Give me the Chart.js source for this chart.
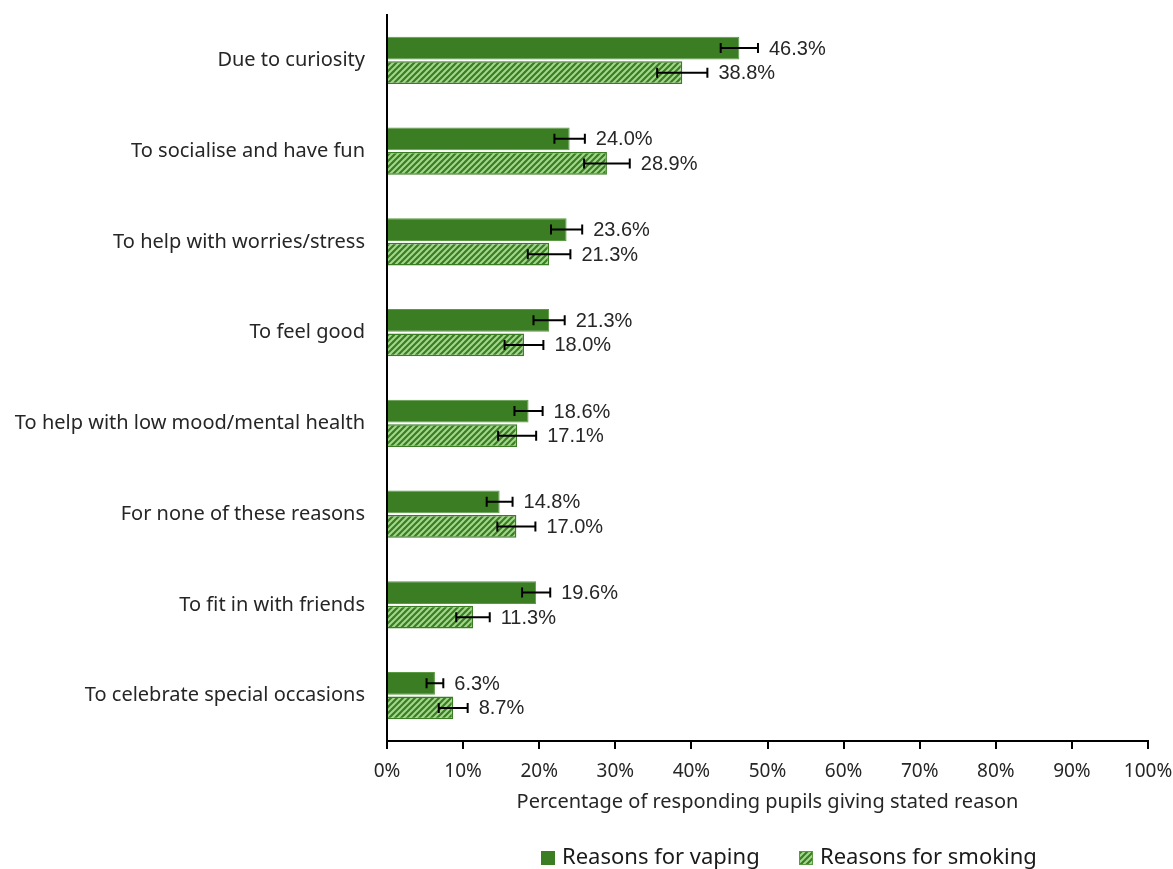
<!DOCTYPE html>
<html>
<head>
<meta charset="utf-8">
<script src="https://cdn.jsdelivr.net/npm/chart.js@4/dist/chart.umd.min.js"></script>
<style>
  html, body { margin: 0; padding: 0; background: #fff; }
  #wrap { width: 1173px; height: 869px; }
</style>
</head>
<body>
<div id="wrap"><canvas id="c" width="1173" height="869"></canvas></div>
<script>
// Reasons given by pupils for vaping and smoking (percent, with 95% CI half-widths)
const categories = [
  'Due to curiosity',
  'To socialise and have fun',
  'To help with worries/stress',
  'To feel good',
  'To help with low mood/mental health',
  'For none of these reasons',
  'To fit in with friends',
  'To celebrate special occasions'
];
const vaping = [46.3, 24.0, 23.6, 21.3, 18.6, 14.8, 19.6, 6.3];
const smoking = [38.8, 28.9, 21.3, 18.0, 17.1, 17.0, 11.3, 8.7];
const vapingErr = [2.45, 2.0, 2.05, 2.05, 1.85, 1.7, 1.85, 1.1];
const smokingErr = [3.3, 3.0, 2.8, 2.55, 2.5, 2.5, 2.2, 1.9];
const xTicks = [0, 10, 20, 30, 40, 50, 60, 70, 80, 90, 100];
const seriesNames = ['Reasons for vaping', 'Reasons for smoking'];

const DARK = '#3b7d23';
const LIGHT = '#a3d88c';
const TEXT = '#262626';
const FONT = '"Noto Sans", sans-serif';

// Diagonal hatch fill for the smoking series
function makeHatch() {
  const s = 6;
  const cv = document.createElement('canvas');
  cv.width = s; cv.height = s;
  const g = cv.getContext('2d');
  g.fillStyle = DARK;
  g.fillRect(0, 0, s, s);
  g.strokeStyle = LIGHT;
  g.lineWidth = 2;
  g.beginPath();
  g.moveTo(-1, s + 1); g.lineTo(s + 1, -1);
  g.moveTo(-1, 1); g.lineTo(1, -1);
  g.moveTo(s - 1, s + 1); g.lineTo(s + 1, s - 1);
  g.stroke();
  return document.getElementById('c').getContext('2d').createPattern(cv, 'repeat');
}
const hatch = makeHatch();

const errors = [vapingErr, smokingErr];

// Error bars and value labels drawn from the data through the x scale
const errorBarPlugin = {
  id: 'errorBars',
  afterDatasetsDraw(chart) {
    const ctx = chart.ctx;
    const xs = chart.scales.x;
    chart.data.datasets.forEach((ds, di) => {
      const meta = chart.getDatasetMeta(di);
      meta.data.forEach((bar, i) => {
        const v = ds.data[i];
        const e = errors[di][i];
        const x0 = xs.getPixelForValue(v - e);
        const x1 = xs.getPixelForValue(v + e);
        const y = bar.y;
        ctx.save();
        ctx.strokeStyle = '#000';
        ctx.lineWidth = 2;
        ctx.beginPath();
        ctx.moveTo(x0, y); ctx.lineTo(x1, y);
        ctx.moveTo(x0, y - 5); ctx.lineTo(x0, y + 5);
        ctx.moveTo(x1, y - 5); ctx.lineTo(x1, y + 5);
        ctx.stroke();
        ctx.fillStyle = TEXT;
        ctx.font = '20px "Liberation Sans", Arial, sans-serif';
        ctx.textAlign = 'left';
        ctx.textBaseline = 'middle';
        ctx.fillText(v.toFixed(1) + '%', x1 + 11, y + 1);
        ctx.restore();
      });
    });
  }
};

// Legend row under the axis title
const legendPlugin = {
  id: 'bottomLegend',
  afterDraw(chart) {
    const ctx = chart.ctx;
    const items = [
      { x: 541, fill: DARK, stroke: DARK },
      { x: 799, fill: hatch, stroke: '#5a9a43' }
    ];
    const cy = 858;
    ctx.save();
    ctx.font = '22px ' + FONT;
    ctx.textBaseline = 'middle';
    ctx.textAlign = 'left';
    items.forEach((it, i) => {
      ctx.fillStyle = it.fill;
      ctx.fillRect(it.x, cy - 7, 14, 14);
      ctx.strokeStyle = it.stroke;
      ctx.lineWidth = 1;
      ctx.strokeRect(it.x + 0.5, cy - 6.5, 13, 13);
      ctx.fillStyle = '#1a1a1a';
      ctx.fillText(seriesNames[i], it.x + 21, cy);
    });
    ctx.restore();
  }
};

new Chart(document.getElementById('c'), {
  type: 'bar',
  data: {
    labels: categories,
    datasets: [
      {
        label: seriesNames[0],
        data: vaping,
        backgroundColor: DARK,
        borderColor: '#5a9a43',
        borderWidth: 1,
        categoryPercentage: 0.54,
        barPercentage: 0.92
      },
      {
        label: seriesNames[1],
        data: smoking,
        backgroundColor: hatch,
        borderColor: DARK,
        borderWidth: 1.5,
        categoryPercentage: 0.54,
        barPercentage: 0.92
      }
    ]
  },
  options: {
    indexAxis: 'y',
    responsive: false,
    animation: false,
    layout: { padding: { top: 15, right: 0, left: 0, bottom: 0 } },
    plugins: {
      tooltip: { enabled: false },
      legend: { display: false }
    },
    scales: {
      x: {
        min: 0,
        max: 100,
        afterBuildTicks(scale) { scale.ticks = xTicks.map(v => ({ value: v })); },
        afterFit(scale) { scale.height = 128; scale.paddingRight = 25; },
        ticks: {
          color: TEXT,
          font: { family: FONT, size: 19 },
          padding: 11,
          maxRotation: 0,
          callback: v => v + '%'
        },
        grid: {
          display: true,
          drawOnChartArea: false,
          drawTicks: true,
          tickLength: 8,
          color: '#000',
          lineWidth: 2
        },
        border: { display: true, color: '#000', width: 2 },
        title: {
          display: true,
          text: 'Percentage of responding pupils giving stated reason',
          color: TEXT,
          font: { family: FONT, size: 20 },
          padding: { top: 6, bottom: 55 }
        }
      },
      y: {
        afterFit(scale) { scale.width = 387; scale.paddingTop = 0; scale.paddingBottom = 0; },
        ticks: {
          color: TEXT,
          font: { family: FONT, size: 20 },
          padding: 22
        },
        grid: { display: false, drawTicks: false },
        border: { display: true, color: '#000', width: 2 }
      }
    }
  },
  plugins: [errorBarPlugin, legendPlugin]
});
</script>
</body>
</html>
